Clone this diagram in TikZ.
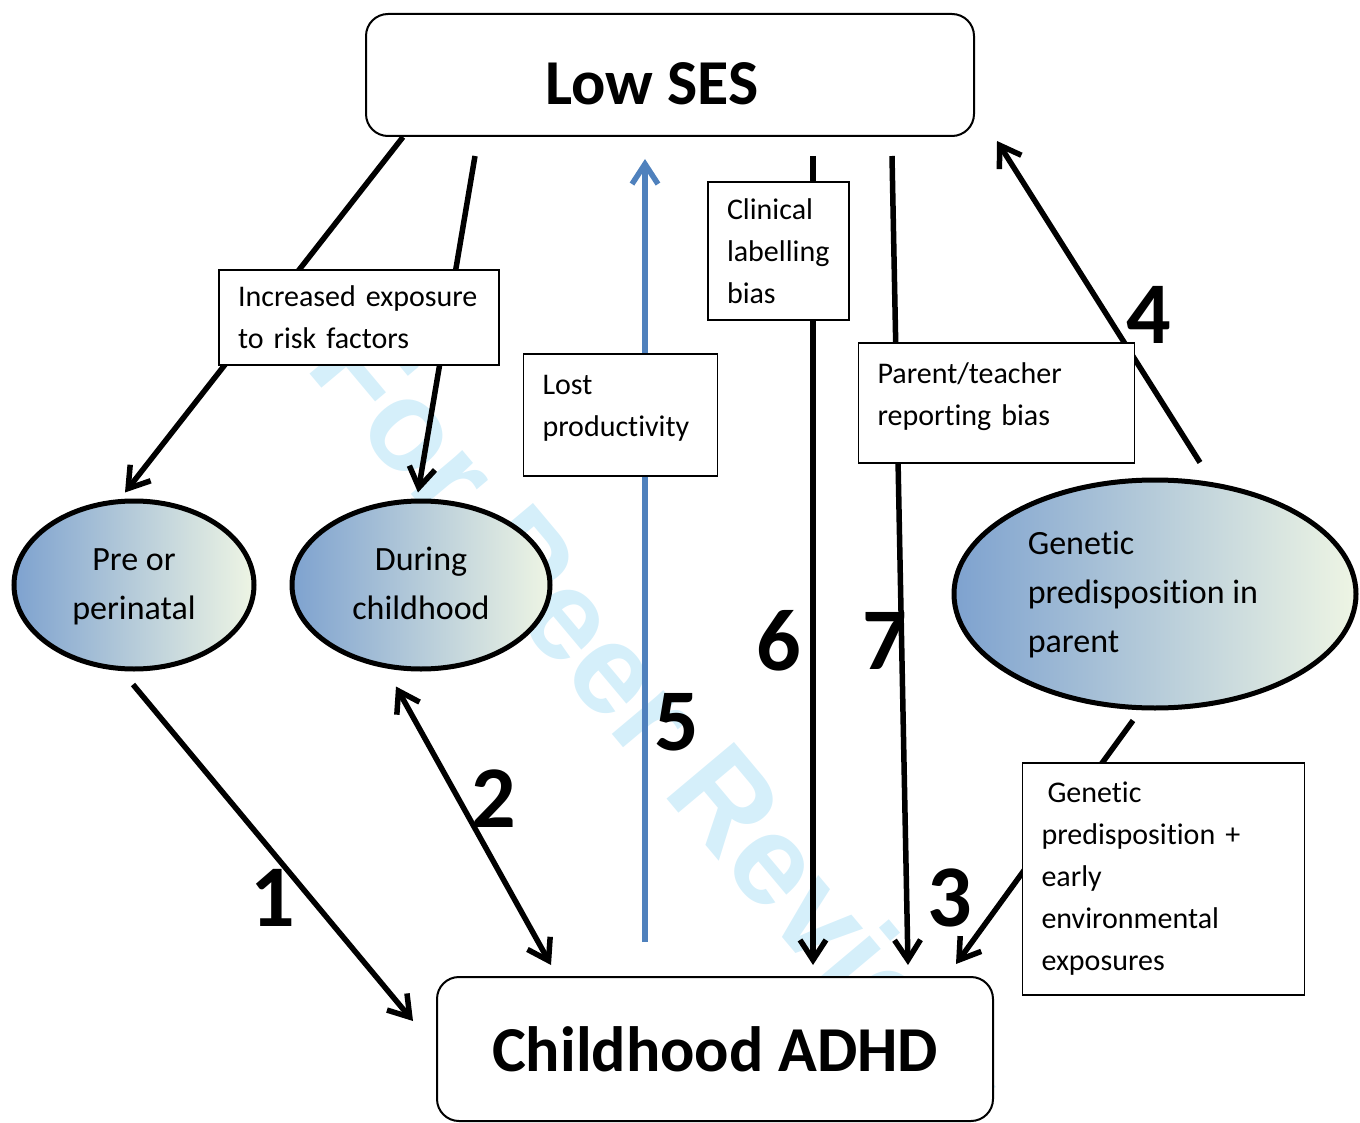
\documentclass[tikz,border=0pt]{standalone}
\usepackage{fontspec}
\setmainfont{Carlito}[Ligatures={NoCommon}]
\newfontfamily\markfont{Liberation Sans}
\usetikzlibrary{shapes.geometric, arrows.meta, positioning}

\definecolor{ovalleft}{RGB}{126,162,207}
\definecolor{ovalright}{RGB}{238,245,228}
\definecolor{prodblue}{RGB}{79,129,189}
\definecolor{markcyan}{RGB}{213,239,250}

\begin{document}
\begin{tikzpicture}[
            x=0.5pt, y=-0.5pt,
            main/.style={rectangle, draw=black, line width=1pt, fill=white, rounded corners=11pt, font=\fontsize{32}{38}\selectfont\bfseries},
            note/.style={rectangle, draw=black, line width=0.9pt, fill=white, align=left, inner xsep=9.5pt, inner ysep=3pt, font=\fontsize{15}{21}\selectfont},
            oval/.style={ellipse, draw=black, line width=2.5pt, left color=ovalleft, right color=ovalright, inner sep=0pt, align=center, font=\fontsize{17}{24.5}\selectfont},
            arrow/.style={line width=2.75pt, -{Straight Barb[length=10pt,width=13pt]}},
            twoway/.style={line width=2.75pt, {Straight Barb[length=10pt,width=13pt]}-{Straight Barb[length=10pt,width=13pt]}},
            tag/.style={inner sep=0pt, font=\fontsize{44}{44}\selectfont\bfseries}
        ]
        \useasboundingbox (0,0) rectangle (1360,1123);

        % watermark behind everything
        \node[text=markcyan, rotate=-50, font=\markfont\fontsize{64}{64}\selectfont\bfseries] (stamp) at (660,720) {For Peer Review};

        \node[main, minimum width=304pt, minimum height=61pt] (ses) at (670,75) {};
        \node[inner sep=0pt, font=\fontsize{32}{38}\selectfont\bfseries] (sestext) at ([shift={(-18,9)}]ses.center) {Low SES};
        \node[main, minimum width=278pt, minimum height=72pt] (adhd) at (715,1049) {Childhood ADHD};

        \node[oval, minimum width=120pt, minimum height=84pt] (pre) at (134,585) {\strut Pre or\\perinatal\strut};
        \node[oval, minimum width=129pt, minimum height=84pt] (during) at (421,585) {\strut During\\childhood\strut};
        \node[oval, minimum width=201pt, minimum height=114pt, align=left] (gene) at (1155,594) {\strut Genetic\\predisposition in\rule{12pt}{0pt}\\parent\strut};

        % connectors
        \draw[arrow] ([xshift=19pt]ses.south west) -- ([shift={(-9,-6)}]pre.north);
        \draw[arrow] ([shift={(110,19)}]ses.south west) -- ([shift={(-3,-6)}]during.north);
        \draw[arrow] ([shift={(-1,13)}]pre.south) -- ([shift={(-23,45)}]adhd.north west);
        \draw[twoway] ([shift={(-25,15)}]during.south) -- ([shift={(115,-11)}]adhd.north west);
        \draw[arrow, draw=prodblue] ([shift={(-70,-34)}]adhd.north) -- ([shift={(-25,22)}]ses.south);
        \draw[arrow] ([shift={(143,19)}]ses.south) -- ([shift={(98,-11)}]adhd.north);
        \draw[arrow] ([shift={(222,19)}]ses.south) -- ([shift={(193,-11)}]adhd.north);
        \draw[arrow] ([shift={(45,-15)}]gene.north) -- ([shift={(22,4)}]ses.south east);
        \draw[arrow] ([shift={(-22,10)}]gene.south) -- ([shift={(-38,-12)}]adhd.north east);

        % boxes on the lines
        \node[note, text width=121pt, minimum height=47.5pt] (expo) at (359,317.5) {Increased exposure\\to risk factors};
        \node[note, text width=51.5pt, minimum height=69pt] (clin) at (778.5,251) {Clinical\\labelling\\bias};
        \node[note, text width=78pt, minimum height=61pt] (lost) at (620.5,415) {Lost\\productivity\\[-12pt]~};
        \node[note, text width=119pt, minimum height=60pt] (report) at (996.5,403) {Parent/teacher\\reporting bias\\[-12pt]~};
        \node[note, text width=122pt, minimum height=116pt] (gxe) at (1163.5,879) {\hspace{3pt}Genetic\\predisposition +\\early\\environmental\\exposures};

        \node[tag] (n1) at (273,898) {1};
        \node[tag] (n2) at (494,799) {2};
        \node[tag] (n3) at (950,898) {3};
        \node[tag] (n4) at (1149,315) {4};
        \node[tag] (n5) at (677,722) {5};
        \node[tag] (n6) at (779,641) {6};
        \node[tag] (n7) at (885,641) {7};

        \end{tikzpicture}
\end{document}
